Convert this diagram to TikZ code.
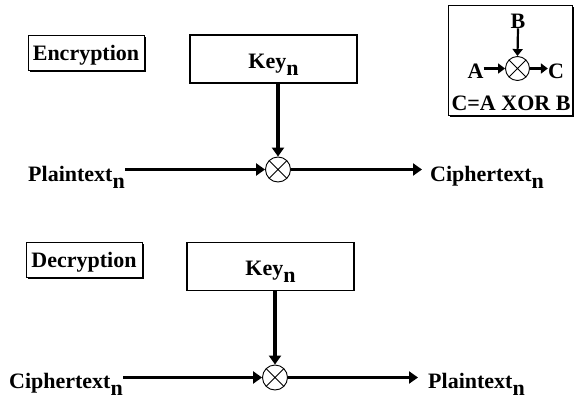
\documentclass[tikz,border=0pt]{standalone}
\usepackage{fontspec}
\setmainfont{Liberation Serif}
\usetikzlibrary{arrows.meta, positioning, shadows}
\newcommand{\lown}{\smash{\raisebox{-7pt}{n}}}

\begin{document}
\begin{tikzpicture}[x=1pt, y=-1pt,
  lbl/.style={font=\fontsize{22}{24}\selectfont\bfseries, inner sep=0pt},
  shadowed/.style={draw, fill=white, line width=1pt, drop shadow={shadow xshift=2pt, shadow yshift=-2pt, fill=black, opacity=1}},
  tagbox/.style={shadowed, lbl, minimum width=116pt, minimum height=35pt, text height=16pt, text depth=0pt},
  keybox/.style={draw, line width=1.5pt, lbl, minimum width=167pt, minimum height=48pt, text height=18pt, text depth=0pt},
  xorop/.style={circle, draw, line width=0.9pt, minimum size=25pt, inner sep=0pt,
    path picture={\draw[line width=0.9pt] (path picture bounding box.north west) -- (path picture bounding box.south east)
      (path picture bounding box.north east) -- (path picture bounding box.south west);}},
  flow/.style={line width=3.2pt, -{Triangle[length=9pt, width=12pt]}},
  thinflow/.style={line width=2.2pt, -{Triangle[length=7pt, width=10pt]}}]
  \useasboundingbox (0,0) rectangle (574,399);
  % encryption
  \node[tagbox] (enc) at (86,52.5) {Encryption};
  \node[keybox] (key1) at (273.5,59) {Key\lown};
  \node[xorop] (x1) at (278,169.5) {};
  \node[lbl, anchor=base east] (pt1) at (125,181) {Plaintext\lown};
  \node[lbl, anchor=base west] (ct1) at (430,181) {Ciphertext\lown};
  \draw[flow] (key1.south -| x1) -- (x1.north);
  \draw[flow] (pt1.east |- x1) -- (x1.west);
  \draw[flow] (x1.east) -- ([xshift=-8pt]ct1.west |- x1);
  % decryption
  \node[tagbox] (dec) at (84,259.5) {Decryption};
  \node[keybox] (key2) at (270.5,266.5) {Key\lown};
  \node[xorop] (x2) at (275,377.5) {};
  \node[lbl, anchor=base east] (ct2) at (123,388) {Ciphertext\lown};
  \node[lbl, anchor=base west] (pt2) at (428,388) {Plaintext\lown};
  \draw[flow] (key2.south -| x2) -- (x2.north);
  \draw[flow] (ct2.east |- x2) -- (x2.west);
  \draw[flow] (x2.east) -- ([xshift=-10pt]pt2.west |- x2);
  % legend
  \node[shadowed, minimum width=124pt, minimum height=110pt] (legend) at (510,60) {};
  \node[xorop, minimum size=24pt] (x3) at (517.5,68.5) {};
  \node[lbl, anchor=base] (b) at (518,28) {B};
  \node[lbl, anchor=base] (a) at (475.5,78) {A};
  \node[lbl, anchor=base] (c) at (556,78) {C};
  \node[lbl, anchor=base] (rule) at (511,110) {C=A XOR B};
  \draw[thinflow] (b.south) -- (x3.north);
  \draw[thinflow] (a.east |- x3) -- (x3.west);
  \draw[thinflow] (x3.east) -- (c.west |- x3);
\end{tikzpicture}
\end{document}
